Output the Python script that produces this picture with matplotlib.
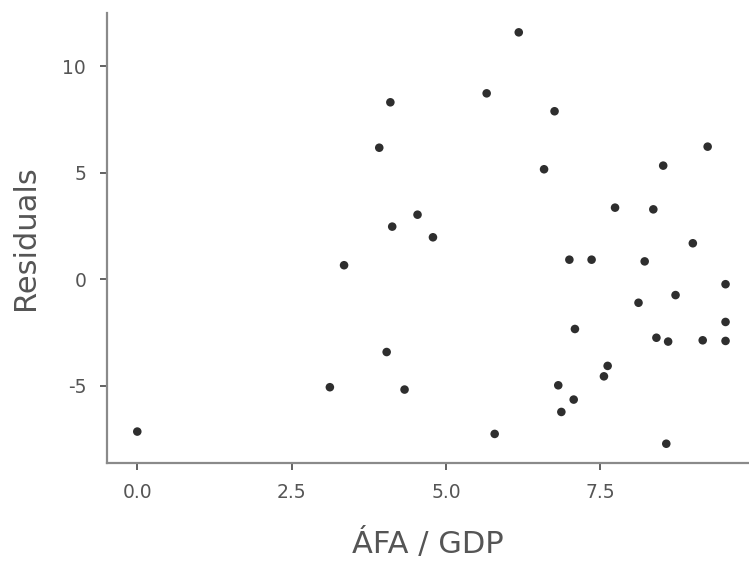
import matplotlib
matplotlib.use("Agg")
import matplotlib.pyplot as plt

# données
afa_gdp = [0.00, 3.12, 3.35, 4.04, 4.33, 3.92, 4.10, 4.13, 4.54, 4.79,
           5.66, 6.18, 6.76, 6.59, 7.74, 8.36, 8.52, 9.24, 9.00, 7.00,
           7.36, 8.22, 9.53, 8.72, 8.12, 9.53, 7.09, 8.41, 8.60, 9.16,
           9.53, 7.62, 7.56, 6.82, 7.07, 6.87, 5.79, 8.57]
residuals = [-7.14, -5.06, 0.66, -3.41, -5.17, 6.17, 8.30, 2.47, 3.03, 1.97,
             8.72, 11.58, 7.88, 5.16, 3.36, 3.28, 5.33, 6.22, 1.69, 0.92,
             0.92, 0.84, -0.23, -0.74, -1.10, -2.00, -2.33, -2.74, -2.92, -2.86,
             -2.89, -4.06, -4.55, -4.97, -5.64, -6.22, -7.25, -7.71]

xticks = [0.0, 2.5, 5.0, 7.5]
yticks = [-5, 0, 5, 10]

plt.rcParams["font.family"] = ["DejaVu Sans"]
plt.rcParams["axes.unicode_minus"] = False

fig = plt.figure(figsize=(7.49, 5.63), dpi=100)
ax = fig.add_axes([0.1429, 0.177, 0.8571, 0.8004])

ax.scatter(afa_gdp, residuals, s=38, color="#2e2e2e", edgecolors="none", zorder=3)

ax.set_xlim(-0.49, 9.91)
ax.set_ylim(-8.63, 12.5)
ax.set_xticks(xticks)
ax.set_xticklabels([f"{t:.1f}" for t in xticks])
ax.set_yticks(yticks)

for side in ["top", "right"]:
    ax.spines[side].set_visible(False)
for side in ["left", "bottom"]:
    ax.spines[side].set_color("#8a8a8a")
    ax.spines[side].set_linewidth(1.6)

ax.tick_params(axis="both", colors="#555555", labelsize=13.5, length=5, width=1.3)
ax.tick_params(axis="both", labelcolor="#555555")
ax.tick_params(axis="x", pad=9)
ax.tick_params(axis="y", pad=10)

ax.set_xlabel("ÁFA / GDP", fontsize=22, color="#555555", labelpad=19)
ax.set_ylabel("Residuals", fontsize=22, color="#555555", labelpad=16)

fig.savefig("out.png", dpi=100)
